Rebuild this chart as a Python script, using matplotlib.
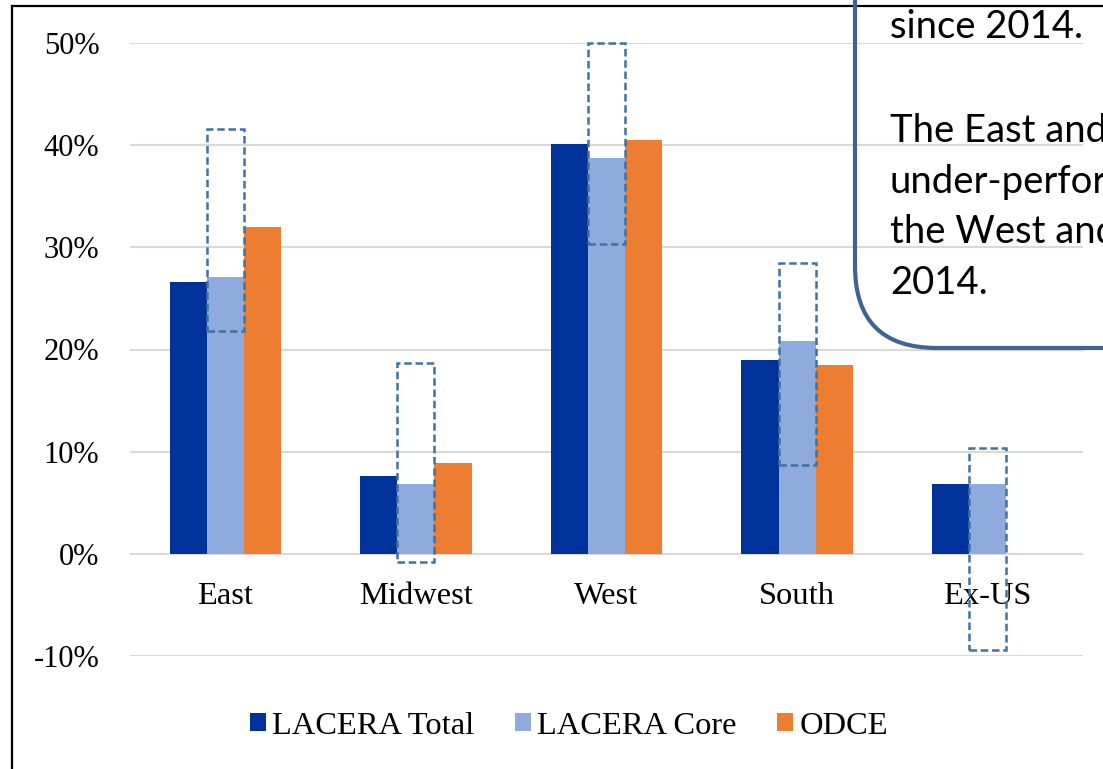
import numpy as np
import matplotlib
matplotlib.use("Agg")
import matplotlib.pyplot as plt
from matplotlib.patches import Rectangle, Patch, FancyBboxPatch
from matplotlib.lines import Line2D
from matplotlib.transforms import IdentityTransform

# Regional returns (%)
regions = ["East", "Midwest", "West", "South", "Ex-US"]
lacera_total = [26.6, 7.6, 40.1, 19.0, 6.8]
lacera_core = [27.1, 6.8, 38.7, 20.8, 6.8]
odce = [32.0, 8.9, 40.5, 18.5, np.nan]
# Range band around the core series
core_range_low = [21.8, -0.8, 30.3, 8.7, -9.4]
core_range_high = [41.6, 18.7, 50.0, 28.5, 10.4]
series_names = ["LACERA Total", "LACERA Core", "ODCE"]
y_ticks = [-10, 0, 10, 20, 30, 40, 50]

callout_lines = ["since 2014.", "", "The East and", "under-perform", "the West and", "2014."]

colors = ["#003399", "#8FAADC", "#ED7D31"]
band_color = "#41719C"
serif = "Liberation Serif"

W, H = 1103, 769
fig = plt.figure(figsize=(W / 100, H / 100), dpi=100)
fig.patch.set_facecolor("white")

ax = fig.add_axes([130 / W, 113 / H, 953 / W, 613 / H])
x = np.arange(len(regions))
bw = 0.195
offsets = [-bw, 0, bw]
for vals, off, c, name in zip([lacera_total, lacera_core, odce], offsets, colors, series_names):
    ax.bar(x + off, vals, width=bw, color=c, label=name, zorder=2, linewidth=0)

for xi, lo, hi in zip(x, core_range_low, core_range_high):
    ax.add_patch(Rectangle((xi - bw / 2, lo), bw, hi - lo, fill=False,
                           edgecolor=band_color, linewidth=1.8,
                           linestyle=(0, (3.0, 1.5)), zorder=4, clip_on=False))

ax.set_xlim(-0.5, len(regions) - 0.5)
ax.set_ylim(-10, 50)
ax.set_yticks(y_ticks)
ax.set_yticklabels([f"{t}%" for t in y_ticks], fontfamily=serif, fontsize=22)
ax.yaxis.grid(True, color="#D9D9D9", linewidth=1.5, zorder=0)
ax.set_axisbelow(True)
for s in ax.spines.values():
    s.set_visible(False)
ax.spines["bottom"].set_position(("data", 0))
ax.set_xticks(x)
ax.set_xticklabels(regions, fontfamily=serif, fontsize=23.4)
ax.tick_params(axis="x", length=0, pad=20)
ax.tick_params(axis="y", length=0, pad=22)

handles = [Patch(facecolor=c, edgecolor="none") for c in colors]
fig.legend(handles, series_names, loc="center", bbox_to_anchor=(569 / W, 1 - 726 / H),
           ncol=3, frameon=False, prop={"family": serif, "size": 23.4},
           handlelength=0.48, handleheight=0.48, handletextpad=0.2,
           columnspacing=1.25, borderpad=0)

# Outer frame (left and top edges)
fig.add_artist(Line2D([12, 12], [-10, H - 6], transform=IdentityTransform(),
                      color="black", linewidth=1.6))
fig.add_artist(Line2D([12, W + 10], [H - 6, H - 6], transform=IdentityTransform(),
                      color="black", linewidth=1.6))

# Callout box
fig.add_artist(FancyBboxPatch((855, H - 348), 400, 500,
                              boxstyle="round,pad=0,rounding_size=82",
                              transform=IdentityTransform(), fill=False,
                              edgecolor="#3F6491", linewidth=3, zorder=10))
baselines = [38, 90, 142, 193, 243, 294]
for line, yb in zip(callout_lines, baselines):
    if line:
        fig.text(890 / W, 1 - yb / H, line, fontfamily="Lato", fontsize=27.5,
                 ha="left", va="baseline", color="black", zorder=11)

fig.savefig("out.png", dpi=100, facecolor="white")
